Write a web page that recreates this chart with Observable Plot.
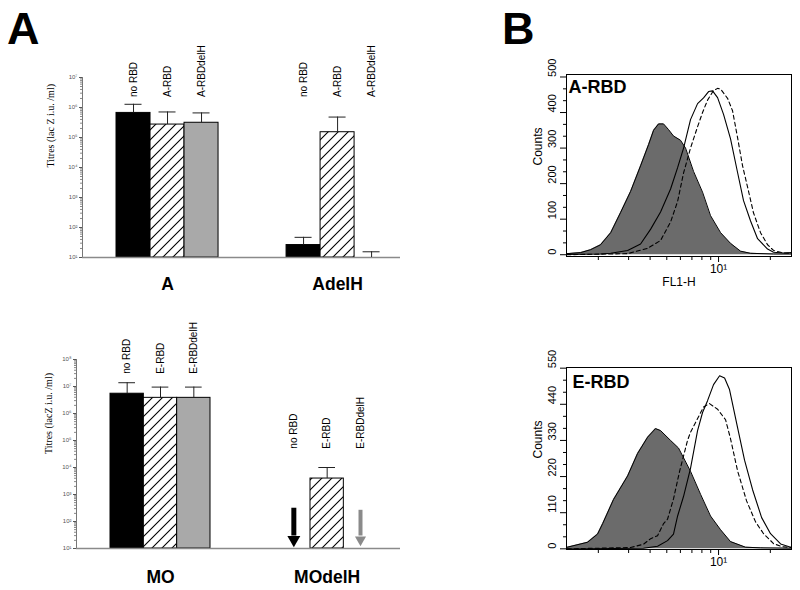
<!DOCTYPE html>
<html><head><meta charset="utf-8">
<script src="https://cdn.jsdelivr.net/npm/d3@7"></script>
<script src="https://cdn.jsdelivr.net/npm/@observablehq/plot@0.6"></script>
<style>
html,body{margin:0;padding:0;background:#fff;}
#fig{position:relative;width:800px;height:590px;overflow:hidden;font-family:"Liberation Sans",Arial,Helvetica,sans-serif;}
.panel{position:absolute;}
.big{position:absolute;font-weight:bold;font-size:45px;line-height:1;color:#000;}
</style></head>
<body>
<div id="fig">
  <div class="big" style="left:7px;top:6px">A</div>
  <div class="big" style="left:502px;top:6px">B</div>
</div>
<script>
// ---------------- Panel A, top: titres (lac Z i.u./ml) ----------------
const groupsTop = ["A", "AdelH"];
const seriesTop = ["no RBD", "A-RBD", "A-RBDdelH"];
const titreA = [6.6e5, 2.7e5, 3.1e5];
const errTopA = [1.28e6, 7.1e5, 6.6e5];
const titreAdelH = [26, 1.5e5, null];
const errTopAdelH = [47, 4.8e5, 15.5];

// ---------------- Panel A, bottom: titres (lacZ i.u./ml) ----------------
const groupsBottom = ["MO", "MOdelH"];
const seriesBottom = ["no RBD", "E-RBD", "E-RBDdelH"];
const titreMO = [5.4e6, 3.8e6, 3.8e6];
const errTopMO = [1.38e7, 9.5e6, 9.5e6];
const titreMOdelH = [null, 3.9e3, null];
const errTopMOdelH = [null, 1.0e4, null];

// ---------------- Panel B: FL1-H histograms ----------------
const aRbdCountTicks = [0, 100, 200, 300, 400, 500];
const eRbdCountTicks = [0, 110, 220, 330, 440, 550];
const fl1MinorTicks = [2, 3, 4, 5, 6, 7, 8, 9, 20];
const fl1MajorTicks = [10];

// A-RBD: filled control, solid, dashed
const aFilledFL1 = [1.31, 1.58, 1.80, 2.06, 2.36, 2.69, 3.08, 3.52, 3.92, 4.19, 4.48, 4.79, 5.12, 5.47, 6.01, 6.43, 7.16, 8.07, 8.98, 10.28, 11.74, 13.42, 15.35, 20.88, 26.55];
const aFilledCount = [3, 6, 14, 28, 62, 118, 178, 250, 310, 350, 368, 368, 352, 334, 322, 300, 234, 176, 110, 62, 32, 10, 4, 2, 2];
const aSolidFL1 = [1.31, 2.06, 2.36, 2.96, 3.52, 4.03, 4.60, 5.26, 5.78, 6.26, 6.87, 7.55, 8.18, 8.75, 9.23, 9.87, 10.69, 11.74, 12.89, 13.97, 15.35, 16.86, 19.27, 20.88, 23.87, 26.55];
const aSolidCount = [1, 2, 4, 12, 30, 72, 120, 185, 245, 300, 380, 425, 441, 459, 461, 442, 395, 326, 232, 152, 95, 45, 16, 7, 5, 6];
const aDashedFL1 = [1.31, 2.96, 3.87, 4.60, 5.26, 5.78, 6.26, 6.87, 7.55, 8.07, 8.63, 9.35, 9.87, 10.28, 11.28, 12.06, 12.89, 13.79, 14.75, 15.96, 17.54, 19.27, 20.88, 23.87, 26.55];
const aDashedCount = [0, 3, 18, 40, 92, 150, 230, 300, 360, 400, 435, 462, 468, 466, 440, 405, 330, 250, 190, 118, 62, 28, 12, 5, 4];

// E-RBD: filled control, solid, dashed
const eFilledFL1 = [1.32, 1.73, 1.98, 2.12, 2.45, 2.96, 3.38, 3.87, 4.30, 4.60, 5.26, 5.85, 6.87, 7.86, 8.98, 10.28, 11.74, 14.35, 17.54, 26.55];
const eFilledCount = [5, 20, 45, 77, 150, 222, 290, 340, 366, 360, 330, 307, 236, 166, 100, 58, 22, 5, 3, 2];
const eSolidFL1 = [1.32, 2.5, 3.66, 4.42, 5.05, 5.47, 5.78, 6.26, 6.87, 7.55, 8.07, 8.63, 9.35, 10.14, 10.84, 11.58, 12.89, 14.16, 15.77, 17.80, 20.05, 22.95, 26.55];
const eSolidCount = [0, 1, 2, 8, 25, 45, 100, 160, 245, 360, 415, 451, 500, 527, 520, 485, 370, 270, 180, 95, 46, 15, 4];
const eDashedFL1 = [1.32, 3.08, 3.66, 4.03, 4.42, 4.79, 5.05, 5.47, 5.93, 6.60, 6.87, 7.44, 8.18, 8.86, 9.87, 10.98, 11.74, 12.89, 14.55, 16.41, 18.27, 20.88, 23.22, 26.55];
const eDashedCount = [0, 4, 14, 31, 40, 77, 90, 152, 235, 330, 355, 390, 432, 442, 425, 393, 335, 238, 146, 82, 46, 16, 7, 4];

// ---------------- helpers ----------------
const fig = document.getElementById("fig");
function place(el, left, top) {
  el.classList.add("panel");
  el.style.left = left + "px";
  el.style.top = top + "px";
  fig.appendChild(el);
}
const SVGNS = "http://www.w3.org/2000/svg";
function hatchDefs(id) {
  return () => {
    const defs = document.createElementNS(SVGNS, "defs");
    defs.innerHTML = `<pattern id="${id}" patternUnits="userSpaceOnUse" width="10" height="10">
      <rect width="10" height="10" fill="white"/>
      <path d="M-1,11 L11,-1 M-1,1 L1,-1 M9,11 L11,9" stroke="black" stroke-width="1.1"/></pattern>`;
    return defs;
  };
}
const baseStyle = {fontFamily: "'Liberation Sans', Arial, sans-serif", fontSize: "10px", background: "transparent", overflow: "visible", color: "black"};

function barPanel(cfg) {
  const yMin = 10;
  const rows = [];
  cfg.groups.forEach((g, gi) => cfg.series.forEach((s, si) => rows.push({
    group: g, gi, series: s, si, slot: gi * 5 + si,
    value: cfg.values[gi][si], err: cfg.errs[gi][si]
  })));
  const topPow = Math.round(Math.log10(cfg.yMax));
  const majors = d3.range(1, topPow + 1).map(p => 10 ** p);
  const minors = d3.range(1, topPow).flatMap(p => d3.range(2, 10).map(k => k * 10 ** p));
  const sup = "⁰¹²³⁴⁵⁶⁷⁸⁹";
  const fmt = d => "10" + sup[Math.round(Math.log10(d))];
  const fills = ["black", `url(#${cfg.hatchId})`, "#a9a9a9"];
  const arrowColor = ["black", "black", "#8a8a8a"];
  const arrowWidth = [5, 5, 4];
  const arrowR = [4.8, 4.8, 4.1];
  const arrowTop = [31, 31, 26];
  const bars = rows.filter(d => d.value != null);
  const errRows = rows.filter(d => d.err != null);
  const nd = rows.filter(d => d.value == null && d.err == null);
  const cx = d => d.slot + 0.5;
  const arrowMarks = [0, 1, 2].flatMap(si => {
    const r = nd.filter(d => d.si === si);
    if (!r.length) return [];
    return [
      Plot.ruleX(r, {x: cx, y1: () => yMin * 2.9, y2: () => yMin * arrowTop[si], stroke: arrowColor[si], strokeWidth: arrowWidth[si]}),
      Plot.dot(r, {x: cx, y: () => yMin * 2.1, symbol: "triangle", rotate: 180, r: arrowR[si], fill: arrowColor[si], stroke: "none"})
    ];
  });
  return Plot.plot({
    width: cfg.width, height: cfg.height,
    marginTop: cfg.margin[0], marginRight: cfg.margin[1], marginBottom: cfg.margin[2], marginLeft: cfg.margin[3],
    x: {type: "linear", domain: cfg.xDomain, axis: null},
    y: {type: "log", domain: [yMin, cfg.yMax]},
    style: baseStyle,
    marks: [
      hatchDefs(cfg.hatchId),
      Plot.axisY(minors, {tickSize: 2, tickFormat: () => "", color: "#888", label: null}),
      Plot.axisY(majors, {tickSize: 3, tickPadding: 2, tickFormat: fmt, fontSize: 6, color: "#555", label: null}),
      Plot.ruleX([cfg.xDomain[0]], {y1: () => yMin, y2: () => cfg.yMax, stroke: "#777"}),
      ...[0, 1, 2].map(si => Plot.rectY(bars.filter(d => d.si === si), {
        x1: d => d.slot, x2: d => d.slot + 1, y1: () => yMin, y2: "value",
        fill: fills[si], stroke: "black", strokeWidth: 1
      })),
      Plot.ruleY([yMin], {stroke: "#8a8a8a", strokeWidth: 1.5}),
      Plot.ruleX(errRows, {x: cx, y1: d => d.value ?? yMin, y2: "err", stroke: "#222"}),
      Plot.ruleY(errRows, {y: "err", x1: d => d.slot + 0.25, x2: d => d.slot + 0.75, stroke: "#222"}),
      ...arrowMarks,
      Plot.text(rows, {x: cx, y: d => cfg.labelAt[d.gi], text: "series", rotate: -90, textAnchor: "start", fontSize: 10, fill: "black"}),
      Plot.text(cfg.groups, {x: (d, i) => i * 5 + 1.5, y: () => yMin, dy: cfg.groupDy, text: d => d, fontSize: 17.5, fontWeight: "bold"}),
      Plot.text([cfg.title], {frameAnchor: "left", dx: cfg.titleDx, rotate: -90, fontFamily: "'Liberation Serif', 'Times New Roman', serif", fontSize: 10, text: d => d})
    ]
  });
}

function histPanel(cfg) {
  const toRows = (xs, ys) => xs.map((x, i) => ({x, y: ys[i]}));
  const filled = toRows(cfg.filled[0], cfg.filled[1]);
  const solid = toRows(cfg.solid[0], cfg.solid[1]);
  const dashed = toRows(cfg.dashed[0], cfg.dashed[1]);
  const majors = cfg.yTicks;
  const step = majors[1] / 3;
  const minors = d3.range(1, 3 * (majors.length - 1)).filter(k => k % 3 !== 0).map(k => k * step);
  return Plot.plot({
    width: cfg.width, height: cfg.height,
    marginTop: cfg.margin[0], marginRight: cfg.margin[1], marginBottom: cfg.margin[2], marginLeft: cfg.margin[3],
    x: {type: "log", domain: [1.306, 26.55]},
    y: {domain: cfg.yDomain},
    style: baseStyle,
    marks: [
      Plot.areaY(filled, {x: "x", y: "y", fill: "#6b6b6b"}),
      Plot.lineY(filled, {x: "x", y: "y", stroke: "black", strokeWidth: 1}),
      Plot.lineY(solid, {x: "x", y: "y", stroke: "black", strokeWidth: 1.1}),
      Plot.lineY(dashed, {x: "x", y: "y", stroke: "black", strokeWidth: 1.1, strokeDasharray: "4,3"}),
      Plot.frame({stroke: "black", strokeWidth: 1}),
      Plot.axisY(minors, {tickSize: 3, tickFormat: () => "", label: null}),
      Plot.axisY(majors, {tickSize: 6, tickFormat: () => "", label: null}),
      Plot.text(majors, {y: d => d, text: d => String(d), frameAnchor: "left", dx: -14, rotate: -90, fontSize: 11}),
      Plot.axisX(fl1MinorTicks, {tickSize: 4, tickFormat: () => "", label: null}),
      Plot.axisX(fl1MajorTicks, {tickSize: 6, tickPadding: 2, tickFormat: () => "10¹", fontSize: 12, label: null}),
      Plot.text(["Counts"], {frameAnchor: "left", dx: -28, rotate: -90, fontSize: 12, text: d => d}),
      cfg.xLabel ? Plot.text([cfg.xLabel], {frameAnchor: "bottom", dy: 29, fontSize: 12, text: d => d}) : null,
      Plot.text([cfg.label], {frameAnchor: "top-left", dx: cfg.labelDx, dy: cfg.labelDy, textAnchor: "start", lineAnchor: "top", fontSize: 18, fontWeight: "bold", text: d => d})
    ]
  });
}

// ---------------- build ----------------
place(barPanel({
  groups: groupsTop, series: seriesTop,
  values: [titreA, titreAdelH], errs: [errTopA, errTopAdelH],
  yMax: 1e7, width: 410, height: 295, margin: [77, 10, 38, 82],
  xDomain: [-1, 8.35], labelAt: [2.24e6, 2.24e6], groupDy: 27,
  title: "Titres (lac Z i.u. /ml)", titleDx: -32, hatchId: "hatchTop"
}), 0, 0);

place(barPanel({
  groups: groupsBottom, series: seriesBottom,
  values: [titreMO, titreMOdelH], errs: [errTopMO, errTopMOdelH],
  yMax: 1e8, width: 410, height: 290, margin: [59, 10, 42, 76],
  xDomain: [-1.02, 8.7], labelAt: [2.95e7, 5.0e4], groupDy: 29,
  title: "Titres (lacZ i.u. /ml)", titleDx: -28, hatchId: "hatchBottom"
}), 0, 300);

place(histPanel({
  width: 310, height: 300, margin: [74, 9, 44, 76],
  yDomain: [-5, 507], yTicks: aRbdCountTicks,
  filled: [aFilledFL1, aFilledCount], solid: [aSolidFL1, aSolidCount], dashed: [aDashedFL1, aDashedCount],
  label: "A-RBD", labelDx: 2, labelDy: 6, xLabel: "FL1-H"
}), 490, 0);

place(histPanel({
  width: 310, height: 290, margin: [67, 9, 41, 76],
  yDomain: [-2, 552], yTicks: eRbdCountTicks,
  filled: [eFilledFL1, eFilledCount], solid: [eSolidFL1, eSolidCount], dashed: [eDashedFL1, eDashedCount],
  label: "E-RBD", labelDx: 6, labelDy: 8, xLabel: null
}), 490, 300);
</script>
</body></html>
